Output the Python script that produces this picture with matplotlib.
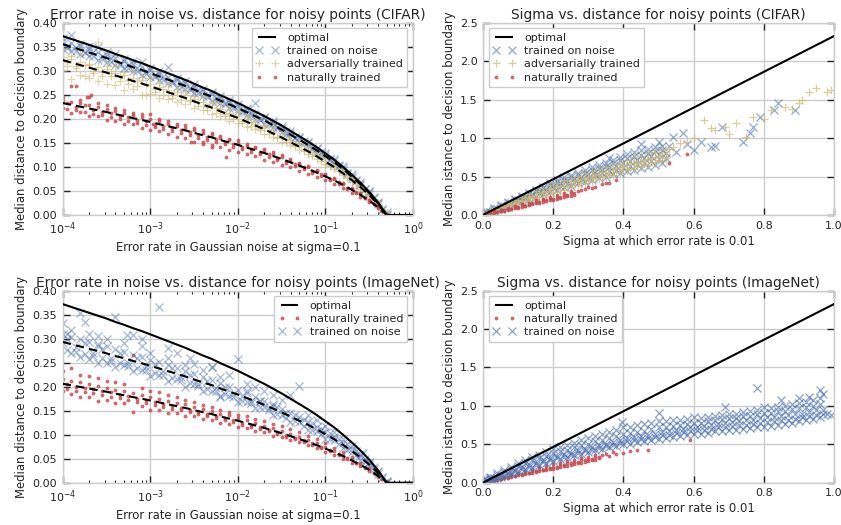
import numpy as np
import matplotlib
matplotlib.use("Agg")
import matplotlib.pyplot as plt
from matplotlib.ticker import FormatStrFormatter

# ---------------- data ----------------
# log10 error-rate grids (left panels)
LX_A = [-4.0, -3.9, -3.8, -3.7, -3.6, -3.5, -3.4, -3.3, -3.2, -3.1, -3.0, -2.9, -2.8, -2.7, -2.6,
        -2.5, -2.4, -2.3, -2.2, -2.1, -2.0, -1.9, -1.8, -1.7, -1.6, -1.5, -1.4, -1.3, -1.2, -1.1,
        -1.0, -0.9, -0.8, -0.7, -0.6, -0.5, -0.4, -0.3]
LX_B = [-3.95, -3.85, -3.75, -3.65, -3.55, -3.45, -3.35, -3.25, -3.15, -3.05, -2.95, -2.85, -2.75,
        -2.65, -2.55, -2.45, -2.35, -2.25, -2.15, -2.05, -1.95, -1.85, -1.75, -1.65, -1.55, -1.45,
        -1.35, -1.25, -1.15, -1.05, -0.95, -0.85, -0.75, -0.65, -0.55, -0.45, -0.35]

# optimal curve (error rate vs distance)
opt_err_log = LX_A[:-1] + [-0.35, -0.3, 0.0]
opt_dist = [.372, .366, .360, .354, .348, .342, .335, .329, .322, .316, .309, .302, .295, .288,
            .281, .273, .265, .258, .249, .241, .233, .224, .215, .206, .196, .186, .175, .164,
            .153, .141, .128, .115, .100, .084, .067, .048, .026, .013, .0, .0]

# fitted scale factors of dashed lines (fraction of optimal)
cifar_fit = {"noise": 0.955, "adv": 0.866, "nat": 0.626}
inet_fit = {"noise": 0.788, "nat": 0.554}

# CIFAR: trained on noise  (A-grid: lo, q3, hi ; B-grid: q1, mid)
cifar_noise_lo = [.345, .342, .334, .330, .322, .318, .312, .305, .300, .292, .288, .280, .275, .266, .262, .253, .247, .238, .232, .223, .217, .207, .200, .190, .183, .172, .163, .151, .143, .130, .120, .106, .093, .077, .062, .043, .023, .002]
cifar_noise_q3 = [.362, .357, .351, .345, .339, .333, .327, .321, .314, .308, .301, .294, .288, .281, .274, .266, .258, .251, .243, .235, .227, .218, .210, .201, .191, .181, .171, .160, .149, .137, .125, .112, .097, .082, .065, .047, .025, .001]
cifar_noise_hi = [.368, .375, .356, .352, .350, .338, .334, .325, .320, .318, .306, .300, .308, .285, .279, .272, .262, .256, .247, .240, .230, .222, .232, .204, .195, .185, .174, .163, .152, .140, .128, .116, .101, .086, .068, .050, .028, .006]
cifar_noise_q1 = [.347, .341, .336, .330, .324, .318, .312, .306, .300, .293, .287, .280, .274, .267, .260, .253, .245, .238, .230, .223, .214, .207, .197, .189, .180, .169, .160, .149, .138, .127, .115, .101, .086, .071, .054, .035, .011]
cifar_noise_mid = [.352, .350, .340, .338, .330, .326, .317, .313, .305, .300, .292, .287, .278, .274, .264, .259, .250, .244, .234, .229, .218, .213, .201, .194, .182, .174, .162, .153, .140, .131, .116, .105, .088, .073, .055, .037, .012]
# CIFAR: adversarially trained
cifar_adv_lo = [.300, .283, .292, .285, .278, .272, .270, .260, .262, .250, .252, .243, .242, .235, .230, .222, .218, .210, .205, .196, .192, .183, .178, .168, .162, .152, .145, .135, .127, .116, .106, .095, .083, .069, .055, .039, .020, .001]
cifar_adv_q3 = [.329, .324, .319, .313, .308, .303, .296, .291, .285, .280, .273, .267, .261, .255, .249, .242, .235, .228, .220, .213, .206, .198, .190, .182, .173, .165, .155, .145, .135, .125, .113, .102, .089, .074, .059, .042, .023, .001]
cifar_adv_hi = [.345, .330, .335, .315, .360, .310, .310, .298, .300, .288, .285, .275, .272, .262, .260, .248, .245, .235, .232, .220, .215, .205, .200, .188, .182, .170, .163, .150, .143, .130, .120, .107, .094, .078, .063, .045, .024, .004]
cifar_adv_q1 = [.310, .305, .290, .295, .290, .295, .279, .273, .268, .250, .256, .250, .244, .239, .240, .226, .219, .213, .206, .199, .192, .185, .176, .169, .160, .151, .143, .133, .123, .113, .102, .091, .077, .064, .049, .032, .011]
cifar_adv_mid = [.318, .310, .312, .300, .298, .290, .290, .280, .278, .270, .262, .262, .250, .248, .238, .235, .224, .222, .210, .206, .196, .193, .180, .176, .163, .158, .146, .138, .126, .118, .104, .095, .079, .066, .050, .033, .011]
# CIFAR: naturally trained
cifar_nat_lo = [.222, .213, .215, .205, .205, .198, .196, .190, .190, .180, .176, .175, .168, .162, .160, .152, .152, .145, .142, .135, .132, .127, .122, .115, .110, .104, .099, .092, .085, .079, .072, .064, .057, .046, .038, .026, .014, .001]
cifar_nat_q3 = [.240, .236, .232, .228, .224, .221, .216, .212, .208, .204, .199, .195, .190, .186, .181, .176, .171, .166, .161, .155, .150, .144, .139, .133, .126, .120, .113, .106, .099, .091, .083, .074, .065, .054, .043, .031, .017, .001]
cifar_nat_hi = [.245, .268, .240, .246, .232, .228, .222, .218, .212, .210, .211, .200, .195, .190, .187, .180, .176, .170, .165, .158, .155, .148, .142, .137, .130, .124, .116, .108, .101, .093, .085, .077, .067, .056, .045, .032, .018, .003]
cifar_nat_q1 = [.221, .218, .214, .211, .207, .203, .199, .195, .191, .187, .183, .179, .175, .170, .166, .161, .157, .152, .147, .142, .137, .132, .126, .121, .115, .108, .102, .095, .088, .081, .073, .065, .055, .046, .035, .023, .008]
cifar_nat_mid = [.232, .225, .228, .218, .215, .212, .205, .203, .198, .195, .188, .186, .180, .176, .172, .166, .162, .158, .152, .148, .142, .138, .130, .126, .118, .113, .106, .099, .091, .085, .075, .068, .056, .047, .035, .023, .008]
cifar_nat_extra_lx = [-3.85, -3.68, -2.53, -2.13, -2.97, -3.72, -2.4, -2.3]
cifar_nat_extra_y = [.268, .250, .152, .121, .190, .245, .148, .142]

# ImageNet: trained on noise
inet_noise_lo = [.290, .270, .262, .258, .250, .250, .240, .245, .232, .235, .222, .225, .212, .215, .200, .205, .190, .192, .178, .180, .168, .168, .155, .158, .142, .142, .126, .126, .110, .108, .092, .088, .072, .064, .048, .036, .019, .001]
inet_noise_q3 = [.309, .304, .299, .294, .289, .284, .278, .273, .267, .262, .256, .251, .245, .239, .233, .227, .220, .214, .207, .200, .193, .186, .178, .171, .163, .154, .145, .136, .127, .117, .106, .095, .083, .070, .056, .040, .022, .001]
inet_noise_hi = [.333, .318, .353, .310, .305, .300, .346, .290, .307, .285, .270, .366, .260, .270, .245, .248, .235, .240, .220, .225, .257, .205, .200, .190, .182, .172, .182, .202, .140, .130, .118, .105, .090, .076, .060, .043, .024, .004]
inet_noise_q1 = [.277, .272, .268, .263, .259, .254, .249, .244, .239, .234, .229, .224, .218, .213, .208, .202, .196, .190, .184, .178, .171, .165, .158, .151, .143, .135, .128, .119, .110, .101, .092, .081, .069, .057, .044, .029, .010]
inet_noise_mid = [.300, .282, .292, .270, .278, .260, .270, .250, .260, .240, .248, .232, .238, .220, .225, .205, .212, .198, .200, .185, .180, .170, .170, .155, .158, .145, .142, .130, .125, .112, .103, .092, .080, .066, .050, .032, .011]
inet_noise_extra_lx = [-3.95, -3.75, -3.6, -3.27, -3.1, -2.8, -2.55, -2.3, -2.2, -1.9, -1.75, -1.6, -0.57]
inet_noise_extra_y = [.310, .335, .285, .307, .300, .280, .260, .240, .180, .190, .170, .160, .061]
# ImageNet: naturally trained
inet_nat_lo = [.190, .185, .178, .178, .170, .172, .165, .165, .148, .160, .152, .152, .145, .145, .138, .138, .132, .130, .124, .122, .115, .114, .107, .105, .098, .095, .088, .084, .078, .072, .064, .058, .050, .042, .034, .024, .012, .001]
inet_nat_q3 = [.216, .212, .209, .205, .202, .198, .194, .191, .187, .183, .179, .175, .171, .167, .163, .158, .154, .150, .144, .140, .135, .130, .125, .119, .114, .108, .102, .095, .089, .082, .074, .067, .058, .049, .039, .028, .015, .001]
inet_nat_hi = [.232, .238, .225, .222, .218, .212, .210, .205, .265, .198, .190, .188, .182, .178, .172, .168, .162, .158, .152, .148, .142, .138, .132, .128, .122, .118, .112, .105, .098, .090, .082, .072, .064, .053, .042, .030, .016, .003]
inet_nat_q1 = [.196, .192, .189, .186, .183, .179, .176, .172, .169, .165, .162, .158, .154, .151, .147, .143, .138, .134, .130, .126, .121, .117, .111, .107, .101, .095, .090, .084, .078, .072, .065, .057, .049, .040, .031, .020, .007]
inet_nat_mid = [.205, .200, .198, .195, .190, .188, .182, .180, .175, .172, .168, .164, .160, .155, .152, .148, .143, .138, .134, .130, .124, .120, .115, .110, .105, .100, .094, .088, .082, .075, .068, .060, .052, .042, .032, .021, .007]

# ---- sigma panels ----
opt_sigma = [0.0, 1.0]
opt_sigma_dist = [0.0, 2.326]

SIG_A = [.01, .03, .05, .07, .09, .11, .13, .15, .17, .19, .21, .23, .25, .27, .29, .31, .33, .35, .37, .39, .41, .43, .45, .47, .49, .51]
SIG_B = [.02, .04, .06, .08, .10, .12, .14, .16, .18, .20, .22, .24, .26, .28, .30, .32, .34, .36, .38, .40, .42, .44, .46, .48, .50, .52]
cs_noise_lo = [.02, .05, .08, .12, .15, .18, .21, .24, .27, .30, .33, .36, .38, .41, .43, .46, .48, .50, .53, .55, .57, .59, .61, .63, .65, .67]
cs_noise_q3 = [.04, .075, .115, .155, .195, .23, .27, .31, .35, .39, .43, .46, .49, .52, .55, .585, .61, .64, .675, .71, .74, .765, .785, .81, .83, .85]
cs_noise_hi = [.05, .09, .13, .17, .21, .25, .29, .33, .37, .42, .46, .49, .52, .55, .58, .62, .65, .68, .72, .76, .79, .82, .84, .86, .88, .90]
cs_noise_q1 = [.037, .072, .11, .147, .18, .21, .247, .28, .31, .347, .377, .405, .43, .46, .487, .515, .54, .567, .59, .615, .64, .66, .68, .705, .725, .745]
cs_noise_mid = [.04, .08, .12, .16, .20, .23, .27, .31, .34, .38, .41, .44, .47, .50, .53, .56, .59, .62, .64, .67, .70, .72, .74, .77, .79, .81]
cs_noise_extra_x = [.53, .54, .55, .57, .58, .60, .62, .65, .66, .68, .74, .76, .77, .79, .83, .84, .89, .36, .45, .50]
cs_noise_extra_y = [.90, 1.02, .82, 1.06, .92, .85, .95, .89, .90, 1.15, .95, 1.06, 1.15, 1.28, 1.36, 1.45, 1.36, .74, .92, .95]
cs_adv_lo = [.02, .05, .08, .11, .14, .16, .19, .21, .24, .27, .30, .33, .36, .39, .41, .44, .47, .50, .52, .55, .58, .60, .63, .65, .68, .70]
cs_adv_q3 = [.03, .065, .10, .135, .17, .20, .23, .26, .30, .335, .36, .39, .42, .45, .48, .51, .535, .565, .59, .62, .65, .68, .70, .725, .75, .775]
cs_adv_hi = [.04, .08, .12, .16, .20, .23, .27, .31, .35, .39, .42, .45, .48, .51, .54, .57, .60, .63, .66, .69, .72, .75, .77, .80, .82, .85]
cs_adv_q1 = [.03, .06, .095, .125, .155, .185, .215, .24, .27, .30, .33, .36, .39, .42, .45, .48, .505, .53, .56, .59, .615, .64, .665, .69, .71, .74]
cs_adv_mid = [.035, .07, .11, .145, .18, .215, .25, .28, .31, .35, .38, .41, .44, .47, .50, .53, .56, .59, .61, .64, .67, .69, .72, .74, .77, .79]
cs_adv_extra_x = [.53, .54, .56, .58, .60, .63, .65, .66, .69, .70, .72, .75, .77, .80, .82, .86, .88, .90, .91, .93, .95, .98, .99]
cs_adv_extra_y = [.86, .89, .93, .95, 1.0, 1.23, 1.13, 1.10, 1.15, 1.05, 1.19, 1.02, 1.28, 1.25, 1.36, 1.41, 1.38, 1.45, 1.50, 1.60, 1.65, 1.60, 1.62]
SIG_R = [.01, .03, .05, .07, .09, .11, .13, .15, .17, .19, .21, .23, .25]
SIG_RB = [.02, .04, .06, .08, .10, .12, .14, .16, .18, .20, .22, .24, .26]
cs_nat_lo = [.01, .03, .05, .07, .09, .11, .13, .15, .17, .19, .21, .23, .25]
cs_nat_q3 = [.02, .04, .06, .08, .105, .125, .145, .17, .19, .215, .235, .255, .28]
cs_nat_hi = [.03, .05, .07, .09, .12, .14, .16, .19, .21, .24, .26, .28, .31]
cs_nat_q1 = [.015, .035, .055, .075, .095, .115, .14, .16, .18, .20, .22, .245, .265]
cs_nat_mid = [.02, .04, .06, .08, .10, .12, .15, .17, .19, .21, .23, .26, .28]
cs_nat_extra_x = [.27, .28, .29, .30, .31, .32, .34, .35, .36, .38, .53, .58]
cs_nat_extra_y = [.31, .32, .34, .36, .35, .37, .40, .41, .42, .455, .67, .79]

SIG_A2 = [.005, .02, .04, .06, .08, .10, .12, .14, .16, .18, .20, .22, .24, .26, .28, .30, .32, .34, .36, .38, .40, .42, .44, .46, .48, .50, .52, .54, .56, .58, .60, .62, .64, .66, .68, .70, .72, .74, .76, .78, .80, .82, .84, .86, .88, .90, .92, .94, .96]
SIG_B2 = [.01, .03, .05, .07, .09, .11, .13, .15, .17, .19, .21, .23, .25, .27, .29, .31, .33, .35, .37, .39, .41, .43, .45, .47, .49, .51, .53, .55, .57, .59, .61, .63, .65, .67, .69, .71, .73, .75, .77, .79, .81, .83, .85, .87, .89, .91, .93, .95, .97]
is_noise_lo = [.01, .03, .06, .09, .12, .15, .18, .20, .23, .26, .28, .31, .33, .36, .38, .40, .42, .44, .46, .48, .50, .51, .53, .54, .56, .57, .58, .60, .61, .62, .63, .64, .65, .67, .67, .68, .69, .70, .71, .72, .72, .74, .75, .76, .78, .80, .81, .83, .85]
is_noise_q3 = [.045, .063, .10, .138, .175, .22, .26, .29, .32, .35, .39, .41, .43, .46, .49, .51, .54, .56, .58, .61, .64, .645, .665, .675, .70, .72, .725, .74, .755, .765, .783, .783, .798, .815, .828, .843, .848, .863, .873, .89, .913, .913, .928, .938, .953, .968, .98, 1.005, 1.023]
is_noise_hi = [.06, .08, .12, .16, .20, .25, .29, .33, .36, .40, .44, .46, .49, .52, .55, .58, .61, .63, .66, .69, .72, .73, .75, .76, .78, .80, .80, .81, .82, .83, .85, .84, .86, .87, .88, .90, .90, .92, .93, .95, .98, .97, .99, 1.0, 1.02, 1.04, 1.05, 1.08, 1.10]
is_noise_q1 = [.02, .05, .08, .115, .15, .18, .21, .235, .265, .29, .32, .34, .365, .39, .41, .43, .455, .475, .495, .52, .54, .55, .57, .58, .60, .615, .625, .645, .655, .67, .68, .69, .70, .72, .725, .735, .745, .755, .765, .78, .785, .80, .81, .82, .835, .85, .865, .885, .90]
is_noise_mid = [.03, .06, .10, .13, .17, .20, .23, .26, .29, .32, .35, .37, .39, .42, .44, .46, .49, .51, .53, .56, .58, .59, .61, .62, .64, .66, .67, .69, .70, .72, .73, .74, .75, .77, .78, .79, .80, .81, .82, .84, .85, .86, .87, .88, .89, .90, .92, .94, .95]
is_noise_extra_x = [.78, .96, .98, .395, .69, .50, .97, .99, .93, .85, .90]
is_noise_extra_y = [1.23, 1.21, .90, .79, .99, .91, 1.15, .88, 1.12, 1.08, 1.10]
SIG_R2 = [.005, .02, .04, .06, .08, .10, .12, .14, .16, .18, .20, .22, .24, .26, .28, .30, .32]
SIG_RB2 = [.01, .03, .05, .07, .09, .11, .13, .15, .17, .19, .21, .23, .25, .27, .29, .31, .33]
is_nat_lo = [.01, .02, .04, .06, .08, .10, .11, .13, .15, .17, .18, .20, .22, .24, .26, .28, .30]
is_nat_q3 = [.02, .035, .05, .07, .095, .115, .13, .15, .175, .195, .21, .23, .25, .27, .29, .31, .33]
is_nat_hi = [.03, .04, .06, .08, .11, .13, .15, .17, .20, .22, .24, .26, .28, .30, .32, .34, .36]
is_nat_q1 = [.015, .025, .045, .065, .085, .105, .12, .14, .16, .18, .195, .215, .235, .255, .275, .295, .315]
is_nat_mid = [.02, .03, .05, .07, .09, .11, .13, .15, .17, .19, .21, .23, .25, .27, .29, .31, .33]
is_nat_extra_x = [.34, .35, .36, .37, .38, .40, .42, .44, .47, .59]
is_nat_extra_y = [.36, .38, .35, .40, .37, .39, .41, .42, .43, .56]

# ---------------- style ----------------
BLUE = "#4C72B0"
YELLOW = "#CCB974"
RED = "#C44E52"
TXT = "#262626"
plt.rcParams.update({
    "font.family": "DejaVu Sans",
    "axes.edgecolor": "#cccccc",
    "axes.linewidth": 1.0,
    "grid.color": "#cccccc",
    "grid.linewidth": 1.0,
    "text.color": TXT,
    "axes.labelcolor": TXT,
    "xtick.color": TXT,
    "ytick.color": TXT,
})


def cat(*lists):
    return np.concatenate([np.asarray(l, dtype=float) for l in lists])


def pts(xa, lo, q3, hi, xb, q1, mid, ex=(), ey=()):
    return cat(xa, xa, xa, xb, xb, ex), cat(lo, q3, hi, q1, mid, ey)


def noise_kw(a):
    return dict(ls="none", marker="x", color=BLUE, ms=5.2, mew=0.9, alpha=a)


def adv_kw(a):
    return dict(ls="none", marker="+", color=YELLOW, ms=6, mew=0.9, alpha=a)


NAT_KW = dict(ls="none", marker=".", color=RED, ms=4.5, mew=0.5, alpha=0.8)
FIT_KW = dict(color="black", lw=1.5, ls=(0, (4, 2.5)), zorder=4)


def style(ax):
    ax.set_facecolor("white")
    ax.grid(True, which="major")
    ax.set_axisbelow(True)
    ax.tick_params(which="both", direction="in", top=True, right=True,
                   labelsize=8, pad=4)
    ax.tick_params(which="major", length=5, width=1)
    ax.tick_params(which="minor", length=2.5, width=0.8)


def legend(ax, loc):
    return ax.legend(loc=loc, fontsize=8, numpoints=2, fancybox=False, framealpha=1,
                     edgecolor="#cccccc", borderpad=0.4, labelspacing=0.3,
                     handletextpad=0.8)


TITLE_FS = 9.9
LABEL_FS = 8.4

fig = plt.figure(figsize=(8.41, 5.25), dpi=100)
ax1 = fig.add_axes([0.0746, 0.5905, 0.4165, 0.3663])
ax2 = fig.add_axes([0.5743, 0.5905, 0.4174, 0.3663])
ax3 = fig.add_axes([0.0746, 0.0806, 0.4165, 0.3657])
ax4 = fig.add_axes([0.5743, 0.0806, 0.4174, 0.3657])

opt_x = 10.0 ** np.asarray(opt_err_log)
opt_y = np.asarray(opt_dist)
fit_x = opt_x[:-1]
fit_base = opt_y[:-1]


def err_axes(ax, title):
    ax.set_xscale("log")
    ax.set_xlim(1e-4, 1)
    ax.set_ylim(0, 0.4)
    ax.set_yticks(np.arange(0, 0.401, 0.05))
    ax.yaxis.set_major_formatter(FormatStrFormatter("%.2f"))
    style(ax)
    ax.set_title(title, fontsize=TITLE_FS, pad=3)
    ax.set_xlabel("Error rate in Gaussian noise at sigma=0.1", fontsize=LABEL_FS, labelpad=3)
    ax.set_ylabel("Median distance to decision boundary", fontsize=LABEL_FS, labelpad=3)


def sig_axes(ax, title):
    ax.set_xlim(0, 1)
    ax.set_ylim(0, 2.5)
    ax.set_yticks(np.arange(0, 2.51, 0.5))
    ax.yaxis.set_major_formatter(FormatStrFormatter("%.1f"))
    style(ax)
    ax.set_title(title, fontsize=TITLE_FS, pad=3)
    ax.set_xlabel("Sigma at which error rate is 0.01", fontsize=LABEL_FS, labelpad=3)
    ax.set_ylabel("Median istance to decision boundary", fontsize=LABEL_FS, labelpad=3)


# ---- panel 1: CIFAR error-rate ----
ax = ax1
ax.plot(opt_x, opt_y, color="black", lw=1.5, label="optimal", zorder=3)
x, y = pts(LX_A, cifar_noise_lo, cifar_noise_q3, cifar_noise_hi, LX_B, cifar_noise_q1, cifar_noise_mid)
ax.plot(10 ** x, y, label="trained on noise", **noise_kw(0.5))
x, y = pts(LX_A, cifar_adv_lo, cifar_adv_q3, cifar_adv_hi, LX_B, cifar_adv_q1, cifar_adv_mid)
ax.plot(10 ** x, y, label="adversarially trained", **adv_kw(0.6))
x, y = pts(LX_A, cifar_nat_lo, cifar_nat_q3, cifar_nat_hi, LX_B, cifar_nat_q1, cifar_nat_mid,
           cifar_nat_extra_lx, cifar_nat_extra_y)
ax.plot(10 ** x, y, label="naturally trained", **NAT_KW)
for k in ("noise", "adv", "nat"):
    ax.plot(fit_x, cifar_fit[k] * fit_base, **FIT_KW)
err_axes(ax, "Error rate in noise vs. distance for noisy points (CIFAR)")
legend(ax, "upper right")

# ---- panel 2: CIFAR sigma ----
ax = ax2
ax.plot(opt_sigma, opt_sigma_dist, color="black", lw=1.5, label="optimal", zorder=3)
x, y = pts(SIG_A, cs_noise_lo, cs_noise_q3, cs_noise_hi, SIG_B, cs_noise_q1, cs_noise_mid,
           cs_noise_extra_x, cs_noise_extra_y)
ax.plot(x, y, label="trained on noise", **noise_kw(0.6))
x, y = pts(SIG_A, cs_adv_lo, cs_adv_q3, cs_adv_hi, SIG_B, cs_adv_q1, cs_adv_mid,
           cs_adv_extra_x, cs_adv_extra_y)
ax.plot(x, y, label="adversarially trained", **adv_kw(0.7))
x, y = pts(SIG_R, cs_nat_lo, cs_nat_q3, cs_nat_hi, SIG_RB, cs_nat_q1, cs_nat_mid,
           cs_nat_extra_x, cs_nat_extra_y)
ax.plot(x, y, label="naturally trained", **NAT_KW)
sig_axes(ax, "Sigma vs. distance for noisy points (CIFAR)")
legend(ax, "upper left")

# ---- panel 3: ImageNet error-rate ----
ax = ax3
ax.plot(opt_x, opt_y, color="black", lw=1.5, label="optimal", zorder=3)
x, y = pts(LX_A, inet_nat_lo, inet_nat_q3, inet_nat_hi, LX_B, inet_nat_q1, inet_nat_mid)
ax.plot(10 ** x, y, label="naturally trained", **NAT_KW)
x, y = pts(LX_A, inet_noise_lo, inet_noise_q3, inet_noise_hi, LX_B, inet_noise_q1, inet_noise_mid,
           inet_noise_extra_lx, inet_noise_extra_y)
ax.plot(10 ** x, y, label="trained on noise", **noise_kw(0.5))
for k in ("noise", "nat"):
    ax.plot(fit_x, inet_fit[k] * fit_base, **FIT_KW)
err_axes(ax, "Error rate in noise vs. distance for noisy points (ImageNet)")
legend(ax, "upper right")

# ---- panel 4: ImageNet sigma ----
ax = ax4
ax.plot(opt_sigma, opt_sigma_dist, color="black", lw=1.5, label="optimal", zorder=3)
x, y = pts(SIG_R2, is_nat_lo, is_nat_q3, is_nat_hi, SIG_RB2, is_nat_q1, is_nat_mid,
           is_nat_extra_x, is_nat_extra_y)
ax.plot(x, y, label="naturally trained", **NAT_KW)
x, y = pts(SIG_A2, is_noise_lo, is_noise_q3, is_noise_hi, SIG_B2, is_noise_q1, is_noise_mid,
           is_noise_extra_x, is_noise_extra_y)
ax.plot(x, y, label="trained on noise", **noise_kw(0.65))
sig_axes(ax, "Sigma vs. distance for noisy points (ImageNet)")
legend(ax, "upper left")

fig.savefig("out.png", dpi=100, facecolor="white")
